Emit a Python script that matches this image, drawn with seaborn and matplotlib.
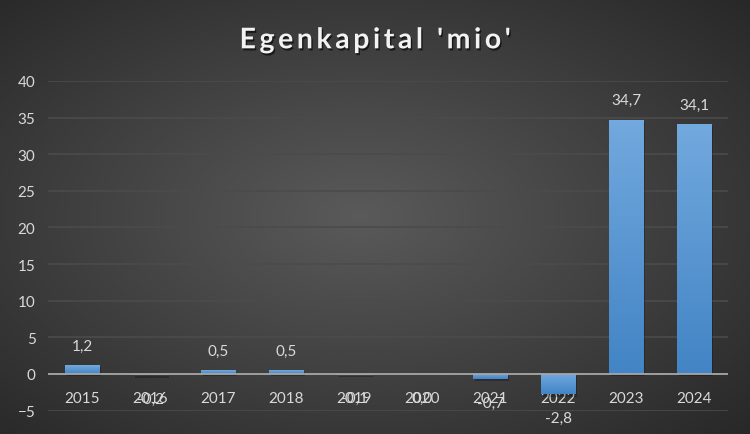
import numpy as np
import pandas as pd
import matplotlib
matplotlib.use("Agg")
import matplotlib.pyplot as plt
import matplotlib.patheffects as pe
from matplotlib.colors import LinearSegmentedColormap
import seaborn as sns

# --- data ---
years = ["2015", "2016", "2017", "2018", "2019", "2020", "2021", "2022", "2023", "2024"]
equity = [1.2, -0.2, 0.5, 0.5, -0.1, -0.04, -0.7, -2.8, 34.7, 34.1]
title = "Egenkapital 'mio'"

df = pd.DataFrame({"year": years, "value": equity})

sns.set_theme(style="dark")
plt.rcParams["font.family"] = ["Lato", "DejaVu Sans"]

fig = plt.figure(figsize=(7.5, 4.35), dpi=100)

# radial dark background
bg = fig.add_axes([0, 0, 1, 1], zorder=-10)
yy, xx = np.mgrid[0:1:435j, 0:1:750j]
r = np.sqrt(((xx - 0.48) / 0.75) ** 2 + ((yy - 0.5) / 0.75) ** 2)
bg_cmap = LinearSegmentedColormap.from_list("bg", ["#5a5a5a", "#262626"])
bg.imshow(np.clip(r, 0, 1), cmap=bg_cmap, aspect="auto", extent=[0, 1, 0, 1], vmin=0, vmax=1)
bg.axis("off")

ax = fig.add_axes([0.064, 0.0538, 0.9067, 0.7577])
ax.patch.set_alpha(0)

sns.barplot(data=df, x="year", y="value", color="#5b9bd5", width=0.5, ax=ax,
            linewidth=0, edgecolor="none", zorder=3)

# gradient fill + soft shadow on every bar
bar_cmap = LinearSegmentedColormap.from_list("bar", ["#4284c5", "#72a9de"])
grad = np.linspace(0, 1, 256).reshape(-1, 1)
for p in ax.patches:
    p.set_path_effects([pe.SimplePatchShadow(offset=(1.5, -1.5), alpha=0.25, shadow_rgbFace="black"), pe.Normal()])
    x0, y0 = p.get_x(), p.get_y()
    w, h = p.get_width(), p.get_height()
    lo, hi = min(y0, y0 + h), max(y0, y0 + h)
    im = ax.imshow(grad, cmap=bar_cmap, origin="lower", aspect="auto",
                   extent=[x0, x0 + w, lo, hi], zorder=4)
    im.set_clip_path(p)

# data labels, Excel style with decimal comma
for i, v in enumerate(equity):
    txt = f"{abs(v):.1f}" if round(v, 1) == 0 else f"{v:.1f}"
    txt = txt.replace(".", ",")
    off = 14 if v > 0 else -17
    ax.annotate(txt, (i, v), xytext=(0, off), textcoords="offset points",
                ha="center", va="center", fontsize=11, color="#d9d9d9", zorder=6)

ax.set_xlim(-0.5, len(years) - 0.5)
ax.set_ylim(-5, 40)
ax.set_yticks(range(-5, 41, 5))
ax.grid(axis="y", color="#4b4b4b", linewidth=1.2, zorder=0)
ax.grid(axis="x", visible=False)
ax.axhline(0, color="#a6a6a6", linewidth=1.3, zorder=5)

for s in ax.spines.values():
    s.set_visible(False)
ax.spines["bottom"].set_position(("data", 0))
ax.tick_params(axis="x", length=0, pad=12, labelsize=11, labelcolor="#d9d9d9")
ax.tick_params(axis="y", length=0, pad=9, labelsize=11, labelcolor="#d9d9d9")
ax.set_xlabel("")
ax.set_ylabel("")

# Excel title uses wide tracking: spread letters with hair spaces
spaced = "\u200a\u200a".join(title)
fig.text(0.5, 0.905, spaced, ha="center", va="center", fontsize=20.5, fontweight="bold",
         color="#f2f2f2", family=["Lato", "DejaVu Sans"],
         path_effects=[pe.withSimplePatchShadow(offset=(1, -1.5), alpha=0.6, shadow_rgbFace="black")])

fig.savefig("out.png", dpi=100)
